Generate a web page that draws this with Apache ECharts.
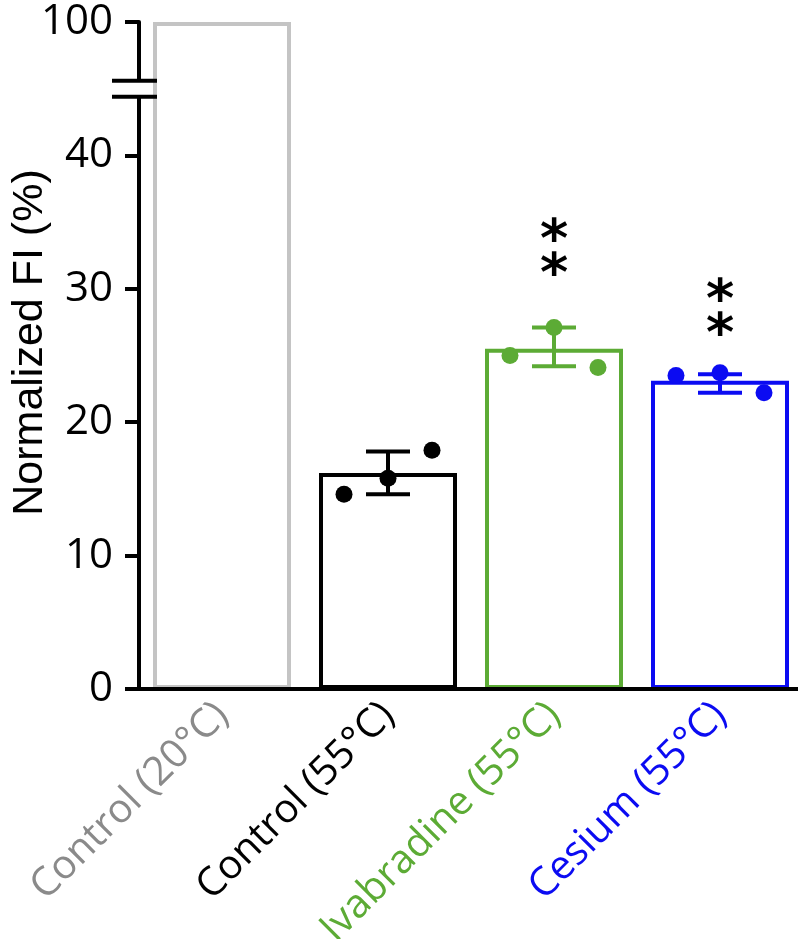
<!DOCTYPE html>
<html><head><meta charset="utf-8">
<script src="https://cdn.jsdelivr.net/npm/echarts@6/dist/echarts.min.js"></script>
<style>html,body{margin:0;padding:0;background:#fff}#c{width:798px;height:939px}</style>
</head><body><div id="c"></div>
<script>
// ---- data ----
const categories = ['Control (20°C)', 'Control (55°C)', 'Ivabradine (55°C)', 'Cesium (55°C)'];
const means = [100, 16.2, 25.5, 23.1];
const errLow = [null, 14.6, 24.2, 22.2];
const errHigh = [null, 17.8, 27.1, 23.6];
const pointsControl20 = [];
const pointsControl55 = [14.6, 15.8, 17.9];
const pointsIvabradine = [25.0, 27.1, 24.1];
const pointsCesium = [23.5, 23.7, 22.2];
const significance = ['', '', '**', '**'];
const significanceAt = [null, null, 32.9, 28.4];
const yTickValues = [0, 10, 20, 30, 40, 100];
const BREAK_FROM = 45, BREAK_TO = 95;

// ---- style ----
const barColors = ['#c4c4c4', '#000000', '#5cab35', '#0b0bf2'];
const labelColors = ['#8a8a8a', '#000000', '#5cab35', '#0b0bf2'];
const GRID_LEFT = 139, GRID_TOP = 22, GRID_BOTTOM = 250, GRID_WIDTH = 664;
const DOT_SPACING = 44, CAP_HALF = 22;

const gapSize = BREAK_TO - BREAK_FROM;
const axisPos = v => (v <= BREAK_FROM ? v : v - gapSize);
const axisVal = p => (p > BREAK_FROM ? p + gapSize : p);

const pointsByGroup = [pointsControl20, pointsControl55, pointsIvabradine, pointsCesium];
const pointData = [];
pointsByGroup.forEach((arr, i) => arr.forEach((v, j) => pointData.push([i, axisPos(v), j - (arr.length - 1) / 2])));
const errData = [];
categories.forEach((c, i) => { if (errLow[i] != null) errData.push([i, axisPos(errLow[i]), axisPos(errHigh[i])]); });
const sigData = [];
categories.forEach((c, i) => { if (significance[i]) sigData.push([i, axisPos(significanceAt[i]), significance[i].length]); });

const chart = echarts.init(document.getElementById('c'), null, {renderer: 'canvas'});
const option = {
  animation: false,
  backgroundColor: '#ffffff',
  grid: {left: GRID_LEFT, top: GRID_TOP, bottom: GRID_BOTTOM, width: GRID_WIDTH, containLabel: false, outerBoundsMode: 'none'},
  xAxis: {
    type: 'category',
    data: categories.map((c, i) => ({value: c, textStyle: {color: labelColors[i]}})),
    z: 5,
    axisLine: {lineStyle: {color: '#000', width: 4}},
    axisTick: {alignWithLabel: true, length: 14, lineStyle: {color: '#000', width: 4}},
    axisLabel: {rotate: 45, margin: 20, fontSize: 40, fontFamily: 'Open Sans', interval: 0}
  },
  yAxis: {
    type: 'value', min: 0, max: axisPos(100), interval: 10,
    z: 5,
    name: 'Normalized FI (%)', nameLocation: 'middle', nameRotate: 90, nameGap: 87,
    nameMoveOverlap: false,
    nameTextStyle: {fontSize: 43, fontFamily: 'Liberation Sans', color: '#000', padding: [0, 0, 0, 26]},
    axisLine: {show: true, lineStyle: {color: '#000', width: 4}},
    axisTick: {show: true, length: 14, lineStyle: {color: '#000', width: 4}},
    splitLine: {show: false},
    axisLabel: {
      margin: 26, fontSize: 42, fontFamily: 'Open Sans', color: '#000',
      formatter: p => { const v = Math.round(axisVal(p)); return yTickValues.indexOf(v) >= 0 ? String(v) : ''; }
    }
  },
  series: [
    {
      type: 'bar', barWidth: 138,
      data: means.map((m, i) => ({value: axisPos(m), itemStyle: {borderColor: barColors[i]}})),
      itemStyle: {color: '#ffffff', borderWidth: 4},
      z: 2
    },
    {
      type: 'custom', z: 3,
      data: errData,
      renderItem: (params, api) => {
        const i = api.value(0);
        const lo = api.coord([i, api.value(1)]);
        const hi = api.coord([i, api.value(2)]);
        const st = {stroke: barColors[i], lineWidth: 4};
        return {type: 'group', children: [
          {type: 'line', shape: {x1: lo[0], y1: lo[1], x2: hi[0], y2: hi[1]}, style: st},
          {type: 'line', shape: {x1: lo[0] - CAP_HALF, y1: lo[1], x2: lo[0] + CAP_HALF, y2: lo[1]}, style: st},
          {type: 'line', shape: {x1: hi[0] - CAP_HALF, y1: hi[1], x2: hi[0] + CAP_HALF, y2: hi[1]}, style: st}
        ]};
      }
    },
    {
      type: 'custom', z: 4,
      data: pointData,
      renderItem: (params, api) => {
        const i = api.value(0);
        const c = api.coord([i, api.value(1)]);
        return {type: 'circle', shape: {cx: c[0] + api.value(2) * DOT_SPACING, cy: c[1], r: 8.5}, style: {fill: barColors[i]}};
      }
    },
    {
      type: 'custom', z: 4,
      data: sigData,
      renderItem: (params, api) => {
        const i = api.value(0);
        const c = api.coord([i, api.value(1)]);
        const n = api.value(2);
        const kids = [];
        for (let k = 0; k < n; k++) {
          kids.push({type: 'text', x: c[0], y: c[1] + (k - (n - 1) / 2) * 34 + 10,
            style: {text: '*', fill: '#000', font: 'bold 54px "DejaVu Sans"', align: 'center', verticalAlign: 'middle'}});
        }
        return {type: 'group', children: kids};
      }
    }
  ]
};
chart.setOption(option);

// axis break marks
const yb = chart.convertToPixel({yAxisIndex: 0}, BREAK_FROM);
chart.setOption({graphic: [
  {type: 'rect', z: 100, shape: {x: GRID_LEFT - 4, y: yb - 8, width: 8, height: 16}, style: {fill: '#fff'}},
  {type: 'line', z: 101, shape: {x1: GRID_LEFT - 27, y1: yb - 8, x2: GRID_LEFT + 18, y2: yb - 8}, style: {stroke: '#000', lineWidth: 4}},
  {type: 'line', z: 101, shape: {x1: GRID_LEFT - 27, y1: yb + 8, x2: GRID_LEFT + 18, y2: yb + 8}, style: {stroke: '#000', lineWidth: 4}}
]});
</script>
</body></html>
